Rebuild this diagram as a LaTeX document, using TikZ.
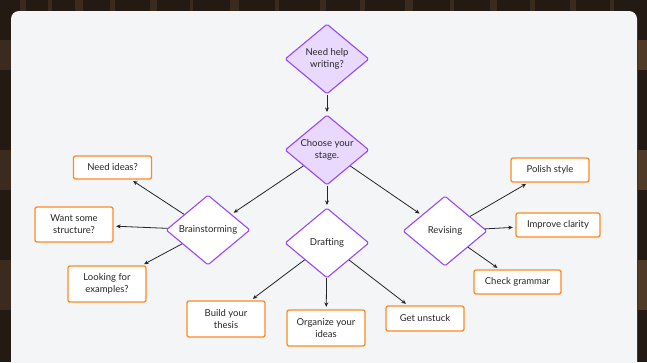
\documentclass[tikz,border=0pt]{standalone}
\usepackage{fontspec}
\setmainfont{Lato}
\usetikzlibrary{shapes.geometric,arrows.meta}
\definecolor{darkbg}{HTML}{231A14}
\definecolor{shelfA}{HTML}{3A2B1E}
\definecolor{shelfB}{HTML}{4E3A27}
\definecolor{panel}{HTML}{F4F5F7}
\definecolor{purp}{HTML}{9747FF}
\definecolor{lpurp}{HTML}{EAD9FF}
\definecolor{orng}{HTML}{FF8A24}
\definecolor{ink}{HTML}{262626}
\tikzset{
  dec/.style={diamond, draw=purp, line width=1.1pt, fill=white, rounded corners=1.5pt,
    minimum width=84pt, minimum height=70pt, aspect=1.2, inner sep=0pt,
    align=center, font=\fontsize{9.5}{11.5}\selectfont, text=ink},
  qdec/.style={dec, fill=lpurp},
  obox/.style={rectangle, draw=orng, line width=1.3pt, fill=white, rounded corners=2pt,
    minimum width=78pt, inner sep=0pt, align=center,
    font=\fontsize{9.5}{12}\selectfont, text=ink},
  arr/.style={draw=ink, line width=0.8pt, -{Stealth[length=4.5pt,width=4pt]}, shorten >=2.5pt}
}
\begin{document}
\begin{tikzpicture}[x=1pt,y=-1pt]
\useasboundingbox (0,0) rectangle (647,362);
\begin{scope}
\clip (0,0) rectangle (647,362);
\fill[darkbg] (0,0) rectangle (647,362);
\foreach \xx/\ww in {20/6,48/4,75/8,110/5,150/7,190/3,230/9,275/4,320/6,360/5,405/8,450/4,490/7,530/5,570/6,610/4}{
  \fill[shelfA] (\xx,0) rectangle (\xx+\ww,11);
}
\foreach \yy/\hh in {40/30,150/40,260/50}{
  \fill[shelfA] (0,\yy) rectangle (11,\yy+\hh);
  \fill[shelfB] (638,\yy) rectangle (647,\yy+\hh);
}
\fill[panel, rounded corners=8pt] (11,11) rectangle (637,380);
\end{scope}

\node[qdec] (help) at (327,59) {Need help\\writing?};
\node[qdec] (stage) at (327,150) {Choose your\\stage.};
\node[dec] (brain) at (208,230) {Brainstorming};
\node[dec] (draft) at (327,243) {Drafting};
\node[dec] (rev) at (445,231) {Revising};

\node[obox, minimum height=23pt] (ideas) at (112.5,167.5) {Need ideas?};
\node[obox, minimum height=35pt] (struct) at (74,224.5) {Want some\\structure?};
\node[obox, minimum height=36pt] (examples) at (107,284) {Looking for\\examples?};
\node[obox, minimum height=36pt] (thesis) at (226,319) {Build your\\thesis};
\node[obox, minimum height=36pt] (organize) at (326,328) {Organize your\\ideas};
\node[obox, minimum height=25pt] (unstuck) at (425,318.5) {Get unstuck};
\node[obox, minimum height=24pt] (polish) at (550,170) {Polish style};
\node[obox, minimum height=24pt, minimum width=84pt] (clarity) at (558,225) {Improve clarity};
\node[obox, minimum height=24pt, minimum width=87pt] (grammar) at (517.5,282) {Check grammar};

\draw[arr] (help) -- (stage);
\draw[arr] (stage) -- (brain);
\draw[arr] (stage) -- (draft);
\draw[arr] (stage) -- (rev);
\draw[arr] (brain) -- (ideas);
\draw[arr] (brain) -- (struct);
\draw[arr] (brain) -- (examples);
\draw[arr] (draft) -- (thesis);
\draw[arr] (draft) -- (organize);
\draw[arr] (draft) -- (unstuck);
\draw[arr] (rev) -- (polish);
\draw[arr] (rev) -- (clarity);
\draw[arr] (rev) -- (grammar);
\end{tikzpicture}
\end{document}
